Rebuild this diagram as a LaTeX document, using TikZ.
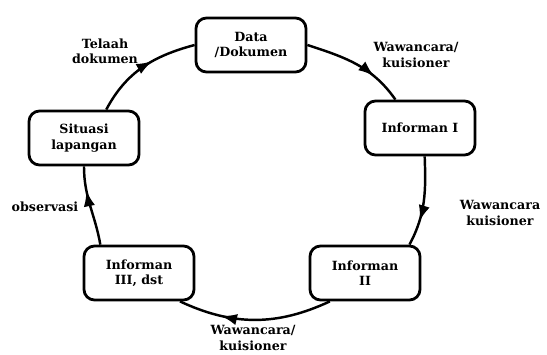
\documentclass[tikz,border=0pt]{standalone}
\usepackage{fontspec}
\setmainfont{DejaVu Serif}
\usepackage{tikz}
\usetikzlibrary{arrows.meta, decorations.markings}

\begin{document}
\begin{tikzpicture}[
    x=0.03cm, y=0.03cm,
    font=\fontsize{10.8}{13}\selectfont\bfseries,
    kotak/.style={draw, line width=2.4pt, rounded corners=9pt, minimum height=1.62cm,
                  minimum width=3.3cm, align=center, fill=white},
    alur/.style={line width=2.1pt, postaction={decorate}, decoration={markings,
                 mark=at position #1 with {\arrow{Latex[length=4.8mm, width=3.4mm]}}}},
    alur/.default=0.6,
    ket/.style={align=center}
  ]
    \useasboundingbox (0,0) rectangle (547,354);
    % kotak-kotak pada siklus
    \node[kotak] (data) at (251,309) {Data\\/Dokumen};
    \node[kotak] (inf1) at (420,226) {Informan I};
    \node[kotak] (inf2) at (365,81) {Informan\\II};
    \node[kotak] (inf3) at (139,81) {Informan\\III, dst};
    \node[kotak] (sit) at (84,216) {Situasi\\lapangan};
    % panah antar kotak
    \draw[alur=0.6] ([xshift=19pt]sit.north) to[out=62, in=195] (data.west);
    \draw[alur=0.7] (data.east) to[out=-18, in=125] ([xshift=-21pt]inf1.south |- inf1.north);
    \draw[alur=0.72] ([xshift=4pt]inf1.south) to[out=-88, in=62] ([xshift=38pt]inf2.north);
    \draw[alur=0.72] ([xshift=-30pt]inf2.south) to[out=-155, in=-25] ([xshift=35pt]inf3.south);
    \draw[alur=0.7] ([xshift=-33pt]inf3.north) to[out=100, in=-90] (sit.south);
    % keterangan
    \node[ket] (l1) at (105,303) {Telaah\\dokumen};
    \node[ket] (l2) at (416,299) {Wawancara/\\kuisioner};
    \node[ket] (l3) at (500,141) {Wawancara\\kuisioner};
    \node[ket] (l4) at (253,16) {Wawancara/\\kuisioner};
    \node[ket] (l5) at (45,147) {observasi};
  \end{tikzpicture}
\end{document}
